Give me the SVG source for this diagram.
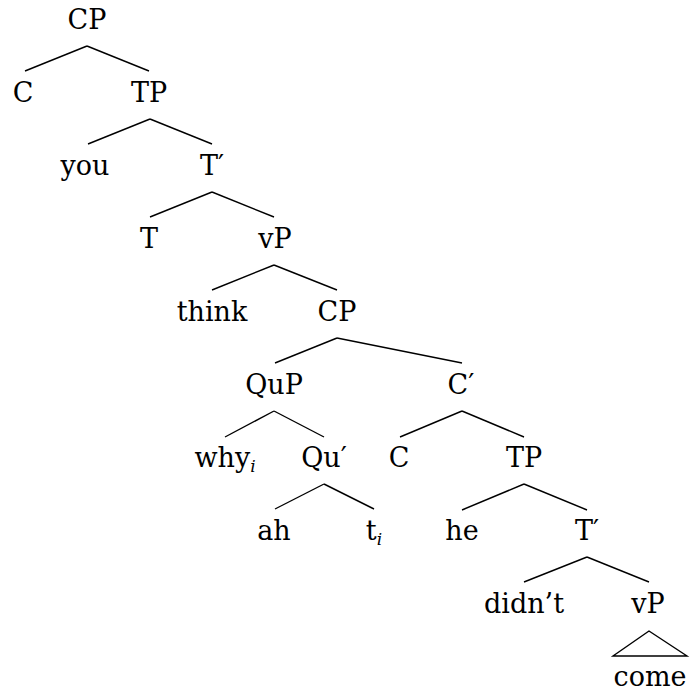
<svg xmlns="http://www.w3.org/2000/svg" width="690" height="695" viewBox="0 0 690 695">
<style>
text{font-family:"DejaVu Serif","Liberation Serif",serif;font-size:27px;fill:#000;text-anchor:middle}
.sub{font-style:italic;font-size:17px}
#edges line,#edges polygon{stroke:#000;stroke-width:1.4;fill:none}
</style>
<rect width="690" height="695" fill="#fff"/>
<g id="edges">
<line x1="87" y1="46" x2="25" y2="71"/><line x1="87" y1="46" x2="149" y2="71"/>
<line x1="150" y1="119" x2="88" y2="144"/><line x1="150" y1="119" x2="212" y2="144"/>
<line x1="212" y1="192" x2="150" y2="217"/><line x1="212" y1="192" x2="274" y2="217"/>
<line x1="274" y1="265" x2="212" y2="290"/><line x1="274" y1="265" x2="337" y2="290"/>
<line x1="337" y1="338" x2="275" y2="363"/><line x1="337" y1="338" x2="462" y2="363"/>
<line x1="274" y1="411" x2="225" y2="437"/><line x1="274" y1="411" x2="324" y2="437"/>
<line x1="462" y1="411" x2="400" y2="437"/><line x1="462" y1="411" x2="524" y2="437"/>
<line x1="324" y1="484" x2="275" y2="509"/><line x1="324" y1="484" x2="374" y2="509"/>
<line x1="524" y1="484" x2="462" y2="510"/><line x1="524" y1="484" x2="587" y2="510"/>
<line x1="587" y1="557" x2="524" y2="582"/><line x1="587" y1="557" x2="649" y2="582"/>
<polygon points="649,631 613,656 687,656"/>
</g>
<g id="n-cp1"><text x="87" y="29">CP</text></g>
<g id="n-c1"><text x="23" y="102">C</text></g>
<g id="n-tp1"><text x="149" y="102">TP</text></g>
<g id="n-you"><text x="85" y="175">you</text></g>
<g id="n-tbar1"><text x="212" y="175">T′</text></g>
<g id="n-t1"><text x="149" y="248">T</text></g>
<g id="n-vp1"><text x="275" y="248">vP</text></g>
<g id="n-think"><text x="212" y="321">think</text></g>
<g id="n-cp2"><text x="337" y="321">CP</text></g>
<g id="n-qup"><text x="274" y="394">QuP</text></g>
<g id="n-cbar"><text x="461" y="394">C′</text></g>
<g id="n-why"><text x="225" y="467">why<tspan class="sub" dy="5">i</tspan></text></g>
<g id="n-qubar"><text x="324" y="467">Qu′</text></g>
<g id="n-c2"><text x="399" y="467">C</text></g>
<g id="n-tp2"><text x="524" y="467">TP</text></g>
<g id="n-ah"><text x="274" y="540">ah</text></g>
<g id="n-ti"><text x="374" y="540">t<tspan class="sub" dy="5">i</tspan></text></g>
<g id="n-he"><text x="462" y="540">he</text></g>
<g id="n-tbar2"><text x="587" y="540">T′</text></g>
<g id="n-didnt"><text x="524" y="613">didn’t</text></g>
<g id="n-vp2"><text x="648" y="613">vP</text></g>
<g id="n-come"><text x="650" y="686">come</text></g>
</svg>
